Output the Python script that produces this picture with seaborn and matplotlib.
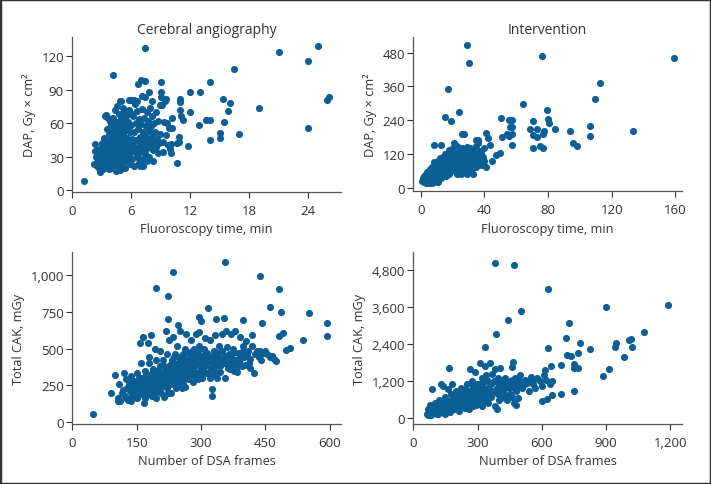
import matplotlib
matplotlib.use("Agg")
import matplotlib.pyplot as plt
import matplotlib.ticker as mticker
from matplotlib.patches import Rectangle
import seaborn as sns
import pandas as pd

# ---------------- data ----------------
ca_fluoro = [1.2, 7.4, 4.1, 21.0, 25.0, 24.0, 24.0, 25.9, 26.1, 19.0, 16.4, 14.0, 13.0, 12.0, 15.3, 16.0, 15.8,
             15.4, 17.0, 15.0, 15.0, 14.0, 13.6, 12.9, 14.0, 12.0, 11.8, 11.0, 11.0, 11.0, 11.1, 11.3, 10.9,
             10.9, 10.6, 10.7, 10.1, 10.1, 10.0, 10.0, 9.5, 9.0, 9.0, 9.0, 9.1, 9.2, 8.2, 8.1, 7.8, 7.4, 7.0,
             6.7, 5.8, 4.9, 7.1, 2.3, 2.8,
             2.2, 2.4, 2.5, 2.6, 2.7, 2.8, 2.9, 2.9, 2.5, 2.3,
             3.0, 3.0, 3.1, 3.1, 3.2, 3.2, 3.3, 3.3, 3.4, 3.4, 3.5, 3.5, 3.5, 3.6, 3.6, 3.7, 3.7, 3.7, 3.8, 3.8,
             3.8, 3.9, 3.9, 3.9, 3.3, 3.6, 3.0, 3.2, 3.4, 3.9,
             4.0, 4.0, 4.0, 4.1, 4.1, 4.1, 4.2, 4.2, 4.3, 4.3, 4.3, 4.4, 4.4, 4.4, 4.5, 4.5, 4.5, 4.6, 4.6, 4.6,
             4.7, 4.7, 4.7, 4.8, 4.8, 4.8, 4.9, 4.9, 4.9, 4.9, 4.2, 4.6, 4.0, 4.4,
             5.0, 5.0, 5.0, 5.1, 5.1, 5.2, 5.2, 5.3, 5.3, 5.3, 5.4, 5.4, 5.5, 5.5, 5.5, 5.6, 5.6, 5.7, 5.7, 5.8,
             5.8, 5.9, 5.9, 5.9, 5.1, 5.4, 5.6, 5.2, 5.8, 5.0,
             6.0, 6.0, 6.0, 6.1, 6.1, 6.2, 6.2, 6.3, 6.3, 6.4, 6.4, 6.5, 6.5, 6.6, 6.6, 6.7, 6.7, 6.8, 6.8, 6.9,
             6.9, 6.9, 6.3, 6.6, 6.1, 6.8,
             7.0, 7.0, 7.1, 7.1, 7.2, 7.2, 7.3, 7.3, 7.4, 7.4, 7.5, 7.5, 7.6, 7.6, 7.7, 7.7, 7.8, 7.8, 7.9, 7.9,
             7.2, 7.6,
             8.0, 8.0, 8.1, 8.1, 8.2, 8.3, 8.3, 8.4, 8.5, 8.5, 8.6, 8.7, 8.7, 8.8, 8.9, 8.9,
             9.2, 9.3, 9.5, 9.6, 9.7, 9.8, 9.9, 9.4]
ca_dap = [8.1, 127, 103.5, 124, 129, 115.5, 55.4, 81, 83, 74, 109, 97, 88, 88, 82, 78, 71,
          61, 50, 51, 46.4, 63, 63, 58, 45, 70, 39.5, 82, 79, 72, 66, 63, 48,
          43, 42, 24, 65, 56, 41, 33, 82, 97, 88, 83, 76, 34, 26, 80, 88, 98, 99,
          95, 81, 80, 84, 41.6, 16.5,
          23, 30, 36, 27, 20, 33, 25, 38, 22, 35,
          29, 42, 19, 35, 24, 47, 31, 38, 22, 67, 28, 44, 55, 33, 40, 19, 26, 50, 36, 30,
          62, 23, 45, 58, 66, 65, 36, 40, 34, 38,
          28, 41, 52, 20, 33, 65, 37, 47, 25, 56, 72, 31, 43, 17, 39, 61, 75, 27, 49, 35,
          22, 44, 68, 30, 53, 40, 18, 36, 58, 26, 29, 57, 35, 50,
          45, 64, 80, 32, 24, 50, 38, 59, 28, 70, 42, 20, 54, 35, 66, 47, 26, 61, 39, 31,
          72, 52, 44, 23, 56, 62, 33, 74, 57, 37,
          36, 58, 81, 46, 28, 66, 40, 52, 22, 77, 34, 60, 45, 30, 71, 55, 38, 24, 64, 48,
          42, 22, 81, 80, 68, 33,
          59, 36, 73, 45, 28, 52, 65, 40, 83, 33, 48, 57, 70, 38, 43, 62, 30, 53, 46, 74,
          22, 26,
          40, 57, 66, 48, 36, 44, 60, 52, 39, 70, 46, 33, 62, 42, 50, 76,
          43, 61, 49, 60, 40, 56, 37, 80]

iv_fluoro = [28.9, 30.4, 76.1, 159, 112.4, 109.5, 16.8, 64.0, 79.3, 24.3, 15.1, 19.1, 50.7, 55.6, 57.5, 70.7,
             79.9, 80.9, 68.7, 72.9, 77.4, 84.5, 93.5, 106.3, 106.3, 133.4, 70.6, 72.9, 77.1, 95.6, 98.3, 70.8,
             75, 76.7, 57.5, 57.5, 55.6, 54.1, 51, 57.2, 56.2, 41.1, 42.2, 43.7, 25.8, 8.4, 12.8, 49.9, 47.4,
             44.7, 41.1,
             1, 1.5, 2, 2, 2.5, 3, 3, 3, 3.5, 4, 4, 4, 4.5, 5, 5, 5, 5, 1.2, 2.2, 3.8,
             5.5, 5.5, 6, 6, 6, 6.5, 6.5, 7, 7, 7, 7.5, 7.5, 8, 8, 8, 8.5, 8.5, 9, 9, 9, 9.5, 9.5, 10, 10, 10,
             6, 7, 8, 9, 10,
             10.5, 10.5, 11, 11, 11, 11.5, 11.5, 12, 12, 12, 12.5, 12.5, 13, 13, 13, 13.5, 13.5, 14, 14, 14,
             14.5, 14.5, 15, 15, 15, 11, 12,
             15.5, 15.5, 16, 16, 16, 16.5, 16.5, 17, 17, 17, 17.5, 17.5, 18, 18, 18, 18.5, 18.5, 19, 19, 19,
             19.5, 20, 20, 20, 20, 16, 18,
             20.5, 21, 21, 21, 21.5, 22, 22, 22, 22.5, 22.5, 23, 23, 23, 24, 24, 24, 24.5, 25, 25, 25, 21, 23,
             26, 26, 26, 26.5, 27, 27, 28, 28, 28, 28.5, 29, 29, 30, 30, 30, 27, 29,
             31, 31, 32, 32, 33, 33, 33, 34, 34, 35, 35, 36, 36, 37, 37, 38, 38, 39, 40, 40, 35, 36]
iv_dap = [506, 445, 470, 462, 372, 316, 350, 299, 278, 268, 251, 239, 247, 242, 242, 239,
          244, 229, 208, 208, 203, 208, 200, 221, 183, 203, 187, 182, 191, 158, 148, 140,
          147, 143, 152, 191, 183, 191, 179, 215, 217, 195, 176, 152, 191, 152, 152, 124, 116,
          95, 72,
          25, 35, 20, 42, 30, 18, 48, 28, 38, 22, 55, 33, 44, 15, 28, 60, 40, 30, 36, 26,
          50, 33, 20, 45, 68, 38, 56, 25, 48, 75, 35, 62, 42, 55, 90, 30, 68, 47, 80, 35, 58, 25, 45, 72, 88,
          30, 18, 22, 60, 35,
          55, 80, 40, 65, 95, 50, 30, 75, 58, 88, 45, 70, 62, 100, 35, 82, 55, 68, 48, 110,
          90, 60, 75, 42, 120, 22, 105,
          88, 65, 100, 55, 78, 115, 70, 90, 62, 125, 82, 105, 70, 95, 48, 112, 85, 78, 130, 60,
          100, 88, 115, 70, 140, 40, 135,
          95, 78, 120, 105, 90, 130, 68, 100, 150, 85, 115, 75, 95, 108, 130, 60, 88, 120, 75, 48, 158, 50,
          100, 140, 62, 118, 85, 55, 110, 130, 75, 95, 145, 60, 100, 120, 80, 190, 48,
          90, 140, 110, 68, 130, 85, 50, 120, 100, 150, 75, 160, 105, 90, 130, 125, 80, 110, 95, 140, 168, 170]

ca_frames = [48, 356, 234, 195, 223, 438, 481, 461, 486, 551, 594, 594, 539, 508, 498, 492, 481, 442, 399, 354,
             335, 317, 296, 301, 223, 246, 476, 466, 437, 423, 325, 325, 91, 107, 107,
             100, 110, 115, 120, 122, 125, 128, 130, 133, 135, 138, 140, 143, 145, 148, 150, 112, 118, 126, 136,
             152, 155, 157, 158, 160, 162, 165, 166, 168, 170, 172, 175, 176, 178, 180, 182, 184, 185, 188, 190,
             192, 193, 195, 196, 198, 200, 160, 170, 180, 190,
             202, 204, 205, 207, 210, 212, 214, 215, 217, 218, 220, 222, 224, 225, 226, 228, 230, 232, 234, 235,
             238, 240, 242, 244, 245, 247, 248, 250, 205, 225, 240,
             252, 254, 256, 258, 260, 262, 264, 266, 268, 270, 272, 274, 276, 278, 280, 282, 284, 286, 288, 290,
             292, 294, 296, 298, 300, 255, 265, 285, 295,
             302, 305, 308, 310, 312, 315, 318, 320, 322, 325, 328, 330, 332, 335, 338, 340, 342, 345, 348, 350,
             310, 336,
             352, 355, 358, 360, 362, 365, 368, 370, 372, 375, 378, 380, 383, 386, 388, 390, 393, 396, 398, 400,
             405, 410, 412, 415, 418, 420, 425, 430, 435, 440, 445, 450, 455, 460, 465, 470,
             140, 145, 150, 155, 160, 163, 167, 170, 173, 177, 180, 183, 186, 188, 191, 194, 197, 199, 203, 206,
             209, 211, 213, 216, 219, 221, 223, 227, 229, 231, 233, 236, 239, 241, 243, 246, 249, 251, 253, 257,
             259, 261, 263, 267, 269, 271, 273, 277, 279, 281, 283, 287, 289, 291, 293, 297, 299, 303, 306, 309,
             313, 316, 319, 323, 327, 331, 334, 337, 341, 344, 347, 353, 357, 363, 367, 373, 377, 382, 387, 392,
             397, 402, 408, 414]
ca_cak = [57, 1086, 1020, 912, 855, 995, 905, 780, 750, 741, 673, 585, 560, 503, 488, 603, 587, 673, 692, 707,
          700, 773, 717, 689, 700, 660, 415, 451, 483, 331, 222, 175, 197, 166, 143,
          320, 255, 200, 330, 180, 290, 230, 150, 260, 210, 310, 175, 245, 280, 200, 330, 145, 220, 160, 140,
          160, 260, 540, 220, 300, 190, 240, 580, 130, 350, 280, 210, 540, 400, 250, 310, 590, 180, 360, 270,
          230, 500, 420, 160, 300, 340, 400, 160, 440, 200,
          250, 480, 380, 200, 300, 420, 270, 170, 350, 620, 230, 460, 310, 560, 260, 390, 200, 330, 580, 280,
          440, 360, 230, 300, 520, 400, 250, 340, 330, 290, 460,
          620, 380, 280, 460, 320, 500, 240, 420, 350, 290, 470, 390, 560, 320, 430, 270, 500, 380, 600, 330,
          450, 290, 520, 400, 360, 230, 600, 440, 610,
          300, 440, 500, 380, 330, 470, 420, 300, 560, 400, 360, 480, 590, 420, 300, 450, 520, 380, 600, 480,
          570, 340,
          430, 300, 620, 510, 400, 460, 360, 600, 430, 500, 390, 620, 340, 470, 410, 580, 460, 380, 520, 440,
          550, 480, 400, 370, 590, 520, 460, 480, 440, 420, 470, 480, 460, 440, 450, 430,
          270, 230, 200, 300, 250, 210, 280, 230, 320, 260, 190, 280, 330, 220, 300, 260, 350, 210, 290, 240,
          330, 270, 380, 300, 250, 340, 200, 300, 360, 260, 420, 320, 270, 390, 340, 290, 440, 300, 400, 350,
          260, 430, 380, 310, 470, 340, 420, 370, 480, 350, 410, 460, 300, 400, 480, 340, 450, 420, 350, 460,
          400, 330, 440, 370, 450, 320, 390, 470, 400, 340, 430, 400, 450, 370, 420, 460, 350, 420, 380, 430,
          480, 390, 460, 430]

iv_frames = [382, 471, 631, 1189, 902, 505, 444, 726, 386, 1077, 1010, 1016, 947, 941, 1021, 714, 780, 826, 630,
             337, 770, 717, 738, 985, 912, 884, 750, 690, 648, 623, 601, 750, 750, 771, 691, 645, 616, 165, 87,
             405, 466, 461,
             65, 70, 75, 80, 85, 90, 95, 100, 105, 110, 115, 120, 125, 130, 135, 140, 145, 150, 70, 90, 110, 130,
             140, 150, 100,
             155, 160, 165, 170, 175, 180, 185, 190, 195, 200, 205, 210, 215, 220, 225, 230, 235, 240, 245, 250,
             160, 180, 200, 220, 240,
             255, 260, 265, 270, 275, 280, 285, 290, 295, 300, 305, 310, 315, 320, 325, 330, 335, 340, 345, 350,
             260, 280, 300, 320, 340, 290, 310,
             355, 360, 365, 370, 375, 380, 385, 390, 395, 400, 405, 410, 415, 420, 425, 430, 435, 440, 445, 450,
             360, 380, 400, 420,
             455, 460, 465, 470, 475, 480, 485, 490, 495, 500, 510, 520, 530, 540, 550, 560, 570, 580, 590, 600,
             610, 620, 640, 650, 480,
             95, 105, 115, 120, 125, 135, 145, 150, 155, 165, 170, 175, 185, 190, 195, 205, 210, 215, 220, 225,
             230, 235, 245, 250, 255, 260, 265, 270, 275, 285, 290, 295, 300, 305, 310, 315, 320, 325, 330, 335,
             340, 345, 350, 355, 360, 365, 370, 375, 385, 390, 395, 405, 410, 415, 425, 430, 440, 450, 460, 470,
             480, 500, 520, 540, 560]
iv_cak = [5048, 4972, 4185, 3667, 3603, 3484, 3203, 3085, 2729, 2783, 2546, 2567, 2459, 2319, 2319, 2589, 2427,
          2244, 2297, 2308, 2114, 2049, 2006, 1995, 1596, 1381, 895, 787, 755, 626, 550, 1758, 1618, 1618, 1726,
          1704, 1575, 1640, 938, 1640, 1812, 1672,
          150, 300, 200, 450, 120, 350, 250, 180, 400, 280, 150, 600, 330, 220, 500, 380, 260, 700, 120, 180,
          150, 1100, 1050, 160, 500,
          420, 300, 550, 220, 800, 400, 650, 300, 500, 900, 380, 700, 250, 580, 1000, 450, 800, 350, 650, 1100,
          950, 1100, 600, 350, 950,
          500, 850, 1600, 650, 1200, 400, 950, 1500, 700, 1100, 550, 1800, 850, 1300, 600, 1000, 1700, 800,
          1250, 500, 300, 1050, 750, 400, 1400, 900, 1000,
          950, 1150, 700, 1450, 900, 400, 1200, 300, 800, 1050, 1250, 650, 1150, 900, 1200, 750, 1100, 600,
          1000, 800, 1800, 1600, 600, 1150,
          1200, 700, 1050, 500, 1300, 900, 1100, 650, 1200, 1400, 1000, 1250, 1150, 900, 1350, 1100, 1000,
          1300, 1200, 1050, 1400, 1250, 1100, 1200, 450,
          200, 300, 250, 180, 350, 300, 420, 250, 550, 350, 450, 300, 500, 700, 350, 600, 450, 800, 700, 400,
          600, 500, 800, 450, 700, 550, 900, 500, 850, 600, 1100, 450, 900, 750, 650, 1100, 900, 800, 700, 1200,
          600, 900, 1000, 700, 850, 1100, 800, 1200, 900, 1000, 1300, 900, 1100, 800, 1000, 1300, 1200, 1100,
          1250, 1000, 1150, 1050, 1100, 1200, 1250]

titles = ["Cerebral angiography", "Intervention"]
top_xlabel = "Fluoroscopy time, min"
top_ylabel = "DAP, Gy × cm²"
bottom_xlabel = "Number of DSA frames"
bottom_ylabel = "Total CAK, mGy"

# ---------------- style ----------------
sns.set_style("ticks")
plt.rcParams['font.family'] = ['Open Sans', 'DejaVu Sans']
DOT = "#0b5e96"
TXT = "#333333"

fig = plt.figure(figsize=(7.11, 4.85), dpi=100)
W, H = 711, 485


def add_ax(l, r, t, b):
    return fig.add_axes([l / W, 1 - b / H, (r - l) / W, (b - t) / H])


ax_tl = add_ax(72.3, 340.7, 38.3, 192.7)
ax_tr = add_ax(413.3, 681.7, 38.3, 192.3)
ax_bl = add_ax(72.3, 340.7, 253.3, 425)
ax_br = add_ax(413.3, 681.7, 253.3, 425)

panels = [
    (ax_tl, ca_fluoro, ca_dap, (0, 27.3), (-1.5, 137), [0, 6, 12, 18, 24], [0, 30, 60, 90, 120],
     top_xlabel, top_ylabel, titles[0]),
    (ax_tr, iv_fluoro, iv_dap, (-4.7, 164), (-12.8, 535), [0, 40, 80, 120, 160], [0, 120, 240, 360, 480],
     top_xlabel, top_ylabel, titles[1]),
    (ax_bl, ca_frames, ca_cak, (0, 626), (-14, 1155), [0, 150, 300, 450, 600], [0, 250, 500, 750, 1000],
     bottom_xlabel, bottom_ylabel, None),
    (ax_br, iv_frames, iv_cak, (0, 1254), (-180, 5380), [0, 300, 600, 900, 1200], [0, 1200, 2400, 3600, 4800],
     bottom_xlabel, bottom_ylabel, None),
]

for ax, xs, ys, xl, yl, xt, yt, xlab, ylab, title in panels:
    df = pd.DataFrame({"x": xs, "y": ys})
    sns.scatterplot(data=df, x="x", y="y", ax=ax, color=DOT, s=26, linewidth=0, alpha=1)
    ax.set_xlim(*xl)
    ax.set_ylim(*yl)
    ax.set_xticks(xt)
    ax.set_yticks(yt)
    ax.xaxis.set_major_formatter(mticker.FuncFormatter(lambda v, p: f"{int(v):,}"))
    ax.yaxis.set_major_formatter(mticker.FuncFormatter(lambda v, p: f"{int(v):,}"))
    ax.set_xlabel(xlab, fontsize=9.2, color=TXT, labelpad=4)
    ax.set_ylabel(ylab, fontsize=9.2, color=TXT, labelpad=4)
    ax.tick_params(axis="x", labelsize=9.5, colors=TXT, length=4, width=0.8, pad=4.5)
    ax.tick_params(axis="y", labelsize=9.5, colors=TXT, length=4, width=0.8, pad=2)
    for s in ["left", "bottom"]:
        ax.spines[s].set_color("#555555")
        ax.spines[s].set_linewidth(0.9)
    sns.despine(ax=ax)
    if title:
        ax.set_title(title, fontsize=10, color=TXT, pad=1.5)

fig.patches.append(Rectangle((0, 0), 1, 1, transform=fig.transFigure, fill=False,
                             edgecolor="#333333", linewidth=2.5, zorder=10))

fig.savefig("out.png", dpi=100)
